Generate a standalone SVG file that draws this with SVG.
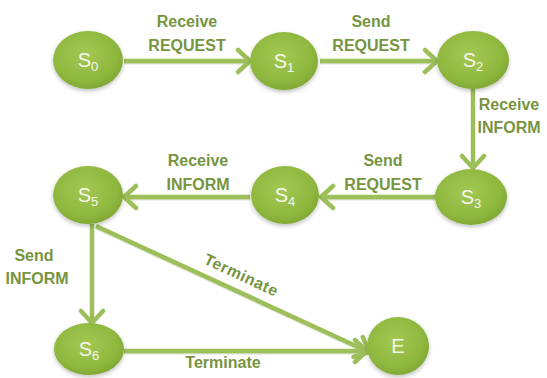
<svg xmlns="http://www.w3.org/2000/svg" width="547" height="378" viewBox="0 0 547 378">
<defs>
<radialGradient id="g" cx="0.45" cy="0.4" r="0.65">
<stop offset="0" stop-color="#a3c853"/>
<stop offset="0.7" stop-color="#8fb83f"/>
<stop offset="1" stop-color="#7da331"/>
</radialGradient>
<filter id="sh" x="-30%" y="-30%" width="160%" height="160%">
<feGaussianBlur in="SourceAlpha" stdDeviation="2"/>
<feOffset dx="0" dy="2"/>
<feComponentTransfer><feFuncA type="linear" slope="0.25"/></feComponentTransfer>
<feMerge><feMergeNode/><feMergeNode in="SourceGraphic"/></feMerge>
</filter>
<marker id="ar" viewBox="-16 -14 20 28" markerWidth="20" markerHeight="28" refX="0" refY="0" orient="auto" markerUnits="userSpaceOnUse">
<path d="M-12,-11 L0,0 L-12,11" fill="none" stroke="#9cbf5a" stroke-width="4.5" stroke-linejoin="miter" stroke-linecap="round"/>
</marker>
</defs>
<style>
.n{fill:url(#g);filter:url(#sh)}
.t{font-family:"Liberation Sans",Arial,sans-serif;font-size:20px;fill:#f4f7ea;text-anchor:middle}
.sub{font-size:13px}
.e{stroke:#9cbf5a;stroke-width:4.5;fill:none;marker-end:url(#ar)}
.es{stroke:#6f8a3a;stroke-opacity:0.25;stroke-width:4;fill:none}
.l{font-family:"Liberation Sans",Arial,sans-serif;font-weight:bold;font-size:16px;fill:#77943e;text-anchor:middle}
</style>
<rect width="547" height="378" fill="#ffffff"/>
<g id="connectors">
<g transform="translate(0,1.5)">
<line class="es" x1="124" y1="61" x2="246" y2="61"/>
<line class="es" x1="320" y1="61" x2="433" y2="61"/>
<line class="es" x1="436" y1="197" x2="325" y2="197"/>
<line class="es" x1="250" y1="197" x2="128" y2="197"/>
<line class="es" x1="96" y1="226" x2="365" y2="350"/>
<line class="es" x1="124" y1="351" x2="363" y2="351"/>
</g>
<line class="e" x1="124" y1="61" x2="250" y2="61"/>
<line class="e" x1="320" y1="61" x2="437" y2="61"/>
<line class="e" x1="473" y1="89" x2="473" y2="168"/>
<line class="e" x1="436" y1="197" x2="321" y2="197"/>
<line class="e" x1="250" y1="197" x2="124" y2="197"/>
<line class="e" x1="92" y1="224" x2="92" y2="323"/>
<line class="e" x1="96" y1="226" x2="369" y2="352"/>
<line class="e" x1="124" y1="351" x2="367" y2="351"/>
</g>
<g id="labels">
<text class="l" x="187" y="27">Receive</text>
<text class="l" x="187" y="51">REQUEST</text>
<text class="l" x="371" y="27">Send</text>
<text class="l" x="371" y="51">REQUEST</text>
<text class="l" x="509" y="110">Receive</text>
<text class="l" x="509" y="133">INFORM</text>
<text class="l" x="383" y="166">Send</text>
<text class="l" x="383" y="190">REQUEST</text>
<text class="l" x="198" y="166">Receive</text>
<text class="l" x="198" y="190">INFORM</text>
<text class="l" x="34" y="261">Send</text>
<text class="l" x="37" y="284">INFORM</text>
<text class="l" transform="translate(239,280) rotate(25)" letter-spacing="0.5">Terminate</text>
<text class="l" x="223" y="368">Terminate</text>
</g>
<g id="S0"><ellipse class="n" cx="88" cy="60" rx="35" ry="29"/><text class="t" x="88" y="67">S<tspan class="sub" dy="4">0</tspan></text></g>
<g id="S1"><ellipse class="n" cx="284" cy="61" rx="34" ry="29"/><text class="t" x="284" y="68">S<tspan class="sub" dy="4">1</tspan></text></g>
<g id="S2"><ellipse class="n" cx="473" cy="60" rx="36" ry="29"/><text class="t" x="473" y="67">S<tspan class="sub" dy="4">2</tspan></text></g>
<g id="S3"><ellipse class="n" cx="471" cy="197" rx="36" ry="28"/><text class="t" x="471" y="204">S<tspan class="sub" dy="4">3</tspan></text></g>
<g id="S4"><ellipse class="n" cx="285" cy="195" rx="34" ry="29"/><text class="t" x="285" y="202">S<tspan class="sub" dy="4">4</tspan></text></g>
<g id="S5"><ellipse class="n" cx="88" cy="195" rx="35" ry="29"/><text class="t" x="88" y="202">S<tspan class="sub" dy="4">5</tspan></text></g>
<g id="S6"><ellipse class="n" cx="89" cy="349" rx="35" ry="26"/><text class="t" x="89" y="356">S<tspan class="sub" dy="4">6</tspan></text></g>
<g id="E"><ellipse class="n" cx="398" cy="346" rx="31" ry="29"/><text class="t" x="398" y="353">E</text></g>
</svg>
